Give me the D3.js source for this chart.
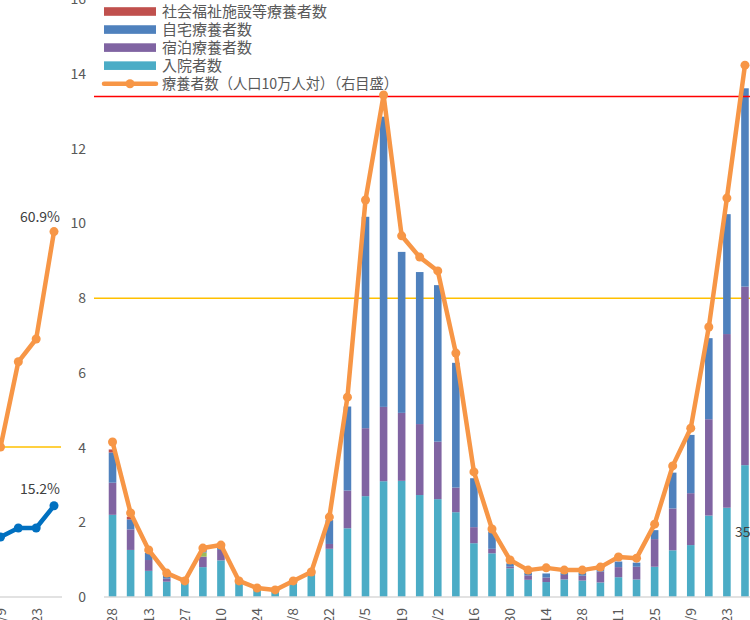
<!DOCTYPE html>
<html>
<head>
<meta charset="utf-8">
<script src="https://cdn.jsdelivr.net/npm/d3@7"></script>
<style>
  html, body { margin: 0; padding: 0; background: #fff; }
  svg { display: block; font-family: "Noto Sans CJK JP", "Noto Sans", sans-serif; }
</style>
</head>
<body>
<svg id="chart" width="750" height="620"></svg>
<script>
// ---------- data (main chart, 2020 weekly) ----------
const dates = ["4/28","5/6","5/13","5/20","5/27","6/3","6/10","6/17","6/24","7/1","7/8","7/15",
  "7/22","7/29","8/5","8/12","8/19","8/26","9/2","9/9","9/16","9/23","9/30","10/7",
  "10/14","10/21","10/28","11/4","11/11","11/18","11/25","12/2","12/9","12/16","12/23","12/30"];
// 入院者数
const hospitalized = [2.20,1.26,0.70,0.41,0.38,0.80,0.98,0.41,0.22,0.15,0.37,0.59,
  1.29,1.84,2.70,3.10,3.11,2.73,2.62,2.27,1.44,1.17,0.77,0.46,
  0.40,0.47,0.44,0.39,0.53,0.47,0.81,1.25,1.39,2.18,2.39,3.53];
// 宿泊療養者数
const hotel = [0.86,0.55,0.29,0.08,0.02,0.28,0.28,0.02,0.01,0.01,0.02,0.04,
  0.13,1.01,1.82,1.99,1.82,1.90,1.54,0.66,0.43,0.12,0.04,0.12,
  0.12,0.12,0.13,0.29,0.27,0.34,0.74,1.12,1.39,2.58,4.65,4.78];
// その他（凡例なし）
const other = [0,0,0,0,0,0.11,0,0,0,0,0,0,
  0,0,0,0,0,0,0,0,0,0,0,0,
  0,0,0,0,0,0,0,0,0,0,0,0];
// 自宅療養者数
const home = [0.81,0.27,0.19,0.12,0.03,0.10,0.10,0.01,0.01,0.01,0.02,0.03,
  0.64,2.25,5.66,7.77,4.31,4.07,4.19,3.34,1.31,0.46,0.09,0.07,
  0.11,0.06,0.08,0.07,0.15,0.11,0.24,0.96,1.56,2.17,3.21,5.31];
// 社会福祉施設等療養者数
const welfare = [0.08,0.07,0,0,0,0,0,0,0,0,0,0,
  0,0,0,0,0,0,0,0,0,0,0,0,
  0,0,0,0,0,0,0,0,0,0,0,0];
// 療養者数（人口10万人対）
const per100k = [4.15,2.25,1.26,0.64,0.43,1.31,1.39,0.43,0.24,0.19,0.43,0.67,
  2.14,5.35,10.63,13.44,9.67,9.10,8.73,6.53,3.35,1.82,0.99,0.72,
  0.78,0.72,0.72,0.80,1.07,1.04,1.95,3.51,4.52,7.23,10.68,14.24];
const yTicks = [0,2,4,6,8,10,12,14,16];
const thresholdRed = 13.4;
const thresholdYellow = 8;

// ---------- data (left fragment chart) ----------
const leftDates = ["12/9","12/16","12/23","12/30"];
const leftOrange = [25.0,39.2,43.0,60.9];
const leftBlue = [10.0,11.5,11.5,15.2];
const leftThreshold = 25;

const legendItems = [
  {name:"社会福祉施設等療養者数", color:"#C0504D", type:"bar"},
  {name:"自宅療養者数", color:"#4F81BD", type:"bar"},
  {name:"宿泊療養者数", color:"#8064A2", type:"bar"},
  {name:"入院者数", color:"#4BACC6", type:"bar"},
  {name:"療養者数（人口10万人対）（右目盛）", color:"#F79646", type:"line"}
];

// ---------- drawing ----------
const svg = d3.select("#chart");
svg.append("rect").attr("width",750).attr("height",620).attr("fill","#fff");

const orange = "#F79646";
const axisGray = "#D9D9D9";
const textGray = "#595959";

// Left fragment chart
const xL = d3.scalePoint().domain(leftDates).range([0.5, 54]);
const yL = d3.scaleLinear().domain([0,100]).range([597,-3]);
const gL = svg.append("g");
gL.append("line").attr("x1",0).attr("x2",62).attr("y1",yL(0)).attr("y2",yL(0))
  .attr("stroke",axisGray).attr("stroke-width",1.5);
gL.append("line").attr("x1",0).attr("x2",61).attr("y1",yL(leftThreshold)).attr("y2",yL(leftThreshold))
  .attr("stroke","#FFC000").attr("stroke-width",1.5);
const lineL = d3.line().x((d,i)=>xL(leftDates[i])).y(d=>yL(d));
[[leftOrange, orange],[leftBlue,"#0070C0"]].forEach(([arr,col])=>{
  gL.append("path").datum(arr).attr("d",lineL).attr("fill","none")
    .attr("stroke",col).attr("stroke-width",4.5).attr("stroke-linejoin","round");
  gL.selectAll(null).data(arr).enter().append("circle")
    .attr("cx",(d,i)=>xL(leftDates[i])).attr("cy",d=>yL(d)).attr("r",4.5).attr("fill",col);
});
gL.append("text").attr("x",60).attr("y",yL(leftOrange[3])-10).attr("text-anchor","end")
  .attr("font-size",14).attr("fill","#404040").text(leftOrange[3].toFixed(1)+"%");
gL.append("text").attr("x",60).attr("y",yL(leftBlue[3])-12).attr("text-anchor","end")
  .attr("font-size",14).attr("fill","#404040").text(leftBlue[3].toFixed(1)+"%");
const axL = gL.append("g").attr("transform",`translate(0,${yL(0)})`)
  .call(d3.axisBottom(xL).tickValues(["12/9","12/23"]).tickSize(0));
axL.select(".domain").remove();
axL.selectAll("text").attr("transform","rotate(-90)").attr("x",-11).attr("y",0)
  .attr("dy","0.35em").attr("text-anchor","end").attr("font-size",14)
  .attr("fill",textGray).style("font-family","'Noto Sans CJK JP', sans-serif");

// Main chart
const x = d3.scaleBand().domain(dates).range([103.5, 754]).paddingInner(0.58).paddingOuter(0.29);
const y = d3.scaleLinear().domain([0,16]).range([597,-0.6]);
const g = svg.append("g");

// y axis labels
const ay = g.append("g").attr("transform","translate(86,0)")
  .call(d3.axisLeft(y).tickValues(yTicks).tickSize(0).tickPadding(0));
ay.select(".domain").remove();
ay.selectAll("text").attr("font-size",14).attr("fill",textGray)
  .style("font-family","'Noto Sans CJK JP', sans-serif");

// reference lines
g.append("line").attr("x1",94).attr("x2",750).attr("y1",y(thresholdYellow)).attr("y2",y(thresholdYellow))
  .attr("stroke","#FFC000").attr("stroke-width",1.5);

// stacked bars
const rows = dates.map((d,i)=>({date:d, hospitalized:hospitalized[i], hotel:hotel[i], other:other[i], home:home[i], welfare:welfare[i]}));
const keys = ["hospitalized","hotel","other","home","welfare"];
const colors = {hospitalized:"#4BACC6", hotel:"#8064A2", other:"#9BBB59", home:"#4F81BD", welfare:"#C0504D"};
const stacked = d3.stack().keys(keys)(rows);
g.selectAll("g.series").data(stacked).enter().append("g").attr("class","series")
  .attr("fill",s=>colors[s.key])
  .selectAll("rect").data(s=>s).enter().append("rect")
  .attr("x",d=>x(d.data.date)).attr("width",x.bandwidth())
  .attr("y",d=>y(d[1])).attr("height",d=>Math.max(0,y(d[0])-y(d[1])));

// baseline
g.append("line").attr("x1",104).attr("x2",750).attr("y1",y(0)).attr("y2",y(0))
  .attr("stroke",axisGray).attr("stroke-width",1.5);

g.append("line").attr("x1",94).attr("x2",750).attr("y1",y(thresholdRed)).attr("y2",y(thresholdRed))
  .attr("stroke","#FF0000").attr("stroke-width",1.5);

// line series
const ln = d3.line().x((d,i)=>x(dates[i])+x.bandwidth()/2).y(d=>y(d));
g.append("path").datum(per100k).attr("d",ln).attr("fill","none").attr("stroke",orange)
  .attr("stroke-width",4.5).attr("stroke-linejoin","round");
g.selectAll("circle.pt").data(per100k).enter().append("circle").attr("class","pt")
  .attr("cx",(d,i)=>x(dates[i])+x.bandwidth()/2).attr("cy",d=>y(d)).attr("r",4.5).attr("fill",orange);

// x axis labels
const ax = g.append("g").attr("transform",`translate(0,${y(0)})`)
  .call(d3.axisBottom(x).tickValues(dates.filter((d,i)=>i%2===0)).tickSize(0));
ax.select(".domain").remove();
ax.selectAll("text").attr("transform","rotate(-90)").attr("x",-11).attr("y",0)
  .attr("dy","0.35em").attr("text-anchor","end").attr("font-size",14)
  .attr("fill",textGray).style("font-family","'Noto Sans CJK JP', sans-serif");

// partial data label at right edge
g.append("text").attr("x",735).attr("y",537).attr("font-size",14).attr("fill","#404040").text("351");

// legend
const lg = svg.append("g");
legendItems.forEach((it,i)=>{
  const cy = 11.5 + 18.05*i;
  if (it.type==="bar") {
    lg.append("rect").attr("x",104).attr("y",cy-4.3).attr("width",52).attr("height",8.6).attr("fill",it.color);
  } else {
    lg.append("line").attr("x1",104).attr("x2",156).attr("y1",cy).attr("y2",cy)
      .attr("stroke",it.color).attr("stroke-width",4.5).attr("stroke-linecap","round");
    lg.append("circle").attr("cx",130).attr("cy",cy).attr("r",4.5).attr("fill",it.color);
  }
  const t = lg.append("text").attr("x",162).attr("y",cy).attr("dy","0.36em").attr("font-size",15)
    .attr("fill","#595959").text(it.name);
  if (it.type==="line") t.attr("textLength",236).attr("lengthAdjust","spacingAndGlyphs");
});
</script>
</body>
</html>
